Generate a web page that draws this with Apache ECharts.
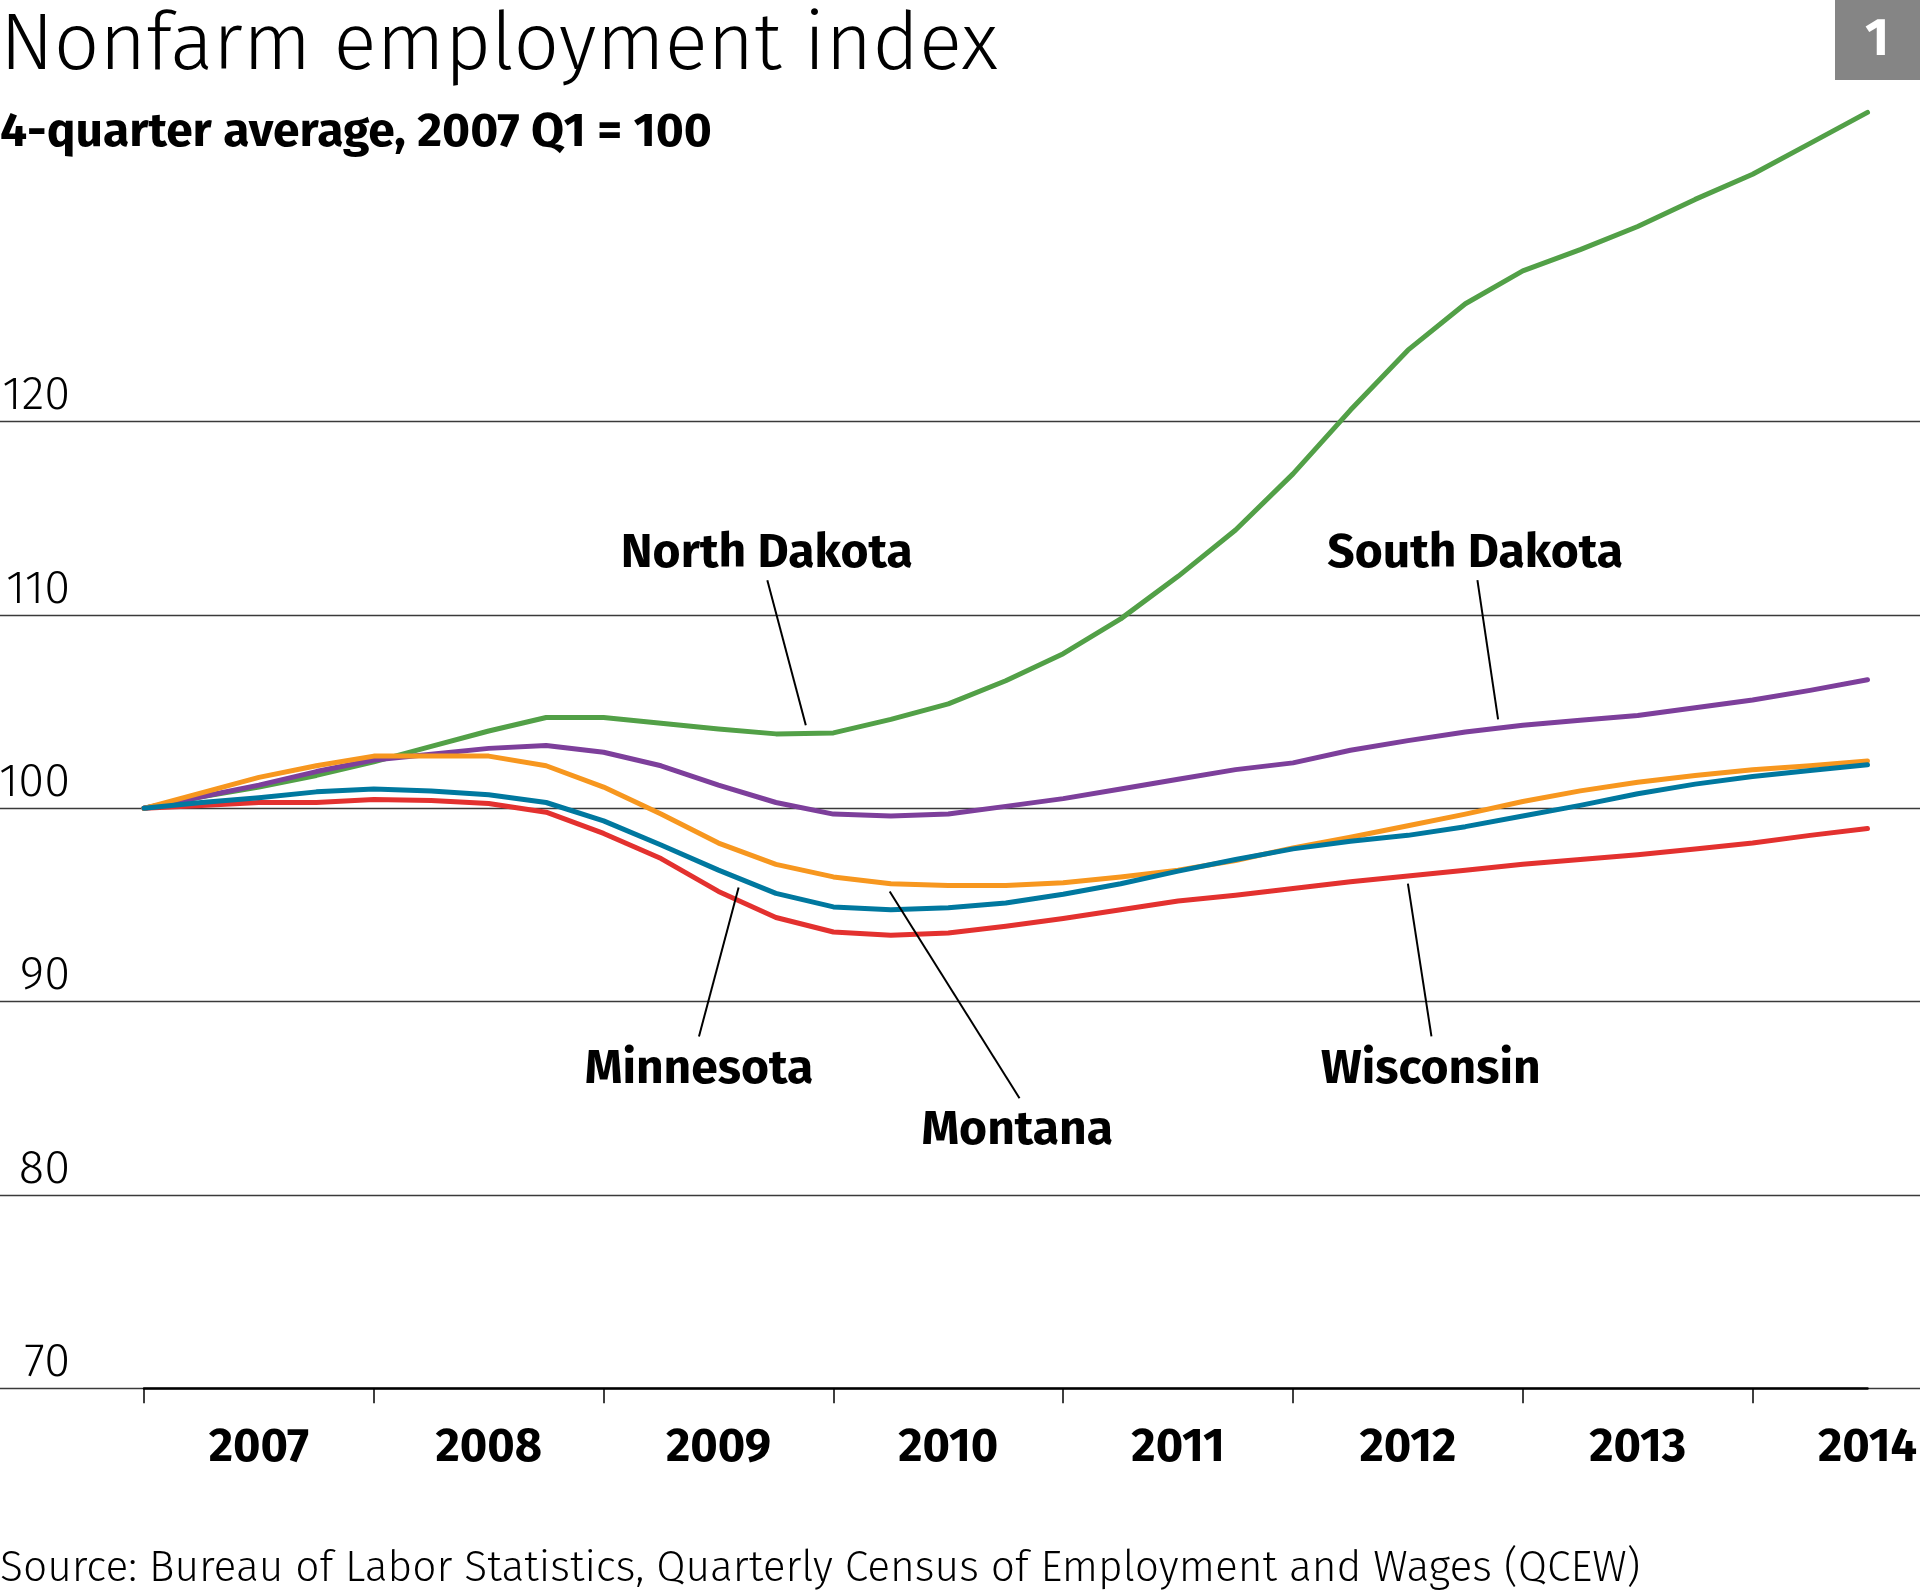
<!DOCTYPE html>
<html>
<head>
<meta charset="utf-8">
<script src="https://cdn.jsdelivr.net/npm/echarts@6/dist/echarts.min.js"></script>
<style>
  html, body { margin: 0; padding: 0; background: #fff; }
  #chart { width: 1920px; height: 1596px; }
</style>
</head>
<body>
<div id="chart"></div>
<script>
// quarterly index, 2007 Q1 .. 2014 Q3
var years = ['2007', '2008', '2009', '2010', '2011', '2012', '2013', '2014'];
var yTicks = [70, 80, 90, 100, 110, 120];

var northDakota = [100, 100.6, 101.1, 101.7, 102.4, 103.2, 104.0, 104.7, 104.7, 104.4, 104.1, 103.85, 103.9, 104.6, 105.4, 106.6,
  108.0, 109.8, 112.0, 114.4, 117.3, 120.6, 123.7, 126.1, 127.8, 128.9, 130.1, 131.5, 132.8, 134.4, 136.0];
var southDakota = [100, 100.6, 101.2, 101.9, 102.5, 102.8, 103.1, 103.25, 102.9, 102.2, 101.2, 100.3, 99.7, 99.6, 99.7, 100.1,
  100.5, 101.0, 101.5, 102.0, 102.35, 103.0, 103.5, 103.95, 104.3, 104.55, 104.8, 105.2, 105.6, 106.1, 106.65];
var montana = [100, 100.8, 101.6, 102.2, 102.7, 102.7, 102.7, 102.2, 101.1, 99.7, 98.2, 97.1, 96.45, 96.1, 96.0, 96.0,
  96.15, 96.45, 96.8, 97.3, 97.95, 98.5, 99.1, 99.7, 100.35, 100.9, 101.35, 101.7, 102.0, 102.2, 102.45];
var minnesota = [100, 100.3, 100.55, 100.85, 101.0, 100.9, 100.7, 100.3, 99.35, 98.1, 96.8, 95.6, 94.9, 94.75, 94.85, 95.1,
  95.55, 96.1, 96.75, 97.35, 97.9, 98.3, 98.6, 99.05, 99.6, 100.15, 100.75, 101.25, 101.65, 101.95, 102.25];
var wisconsin = [100, 100.15, 100.3, 100.3, 100.45, 100.4, 100.25, 99.8, 98.7, 97.4, 95.7, 94.35, 93.6, 93.43, 93.55, 93.9,
  94.3, 94.75, 95.2, 95.5, 95.85, 96.2, 96.5, 96.8, 97.1, 97.35, 97.6, 97.9, 98.2, 98.6, 98.95];

// state names and where their labels / leader lines sit (quarter index, index value)
var labelNames = ['North Dakota', 'South Dakota', 'Minnesota', 'Montana', 'Wisconsin'];
var labelAt = [[10.84, 113.2], [23.17, 113.2], [9.66, 86.5], [15.2, 83.35], [22.4, 86.5]];
var leaderFrom = [[10.85, 111.8], [23.21, 111.8], [9.66, 88.2], [15.24, 85.0], [22.41, 88.2]];
var leaderTo = [[11.52, 104.3], [23.57, 104.6], [10.35, 95.9], [12.98, 95.7], [22.0, 96.1]];

var quarters = [];
years.forEach(function (y) {
  for (var q = 1; q <= 4; q++) quarters.push(y + ' Q' + q);
});
quarters = quarters.slice(0, northDakota.length);

var FONT = "'Fira Sans', 'Open Sans', Roboto, sans-serif";

function toPairs(arr) {
  return arr.map(function (v, i) { return [i, v]; });
}

function lineSeries(name, data, color) {
  return {
    name: name,
    type: 'line',
    xAxisIndex: 0,
    yAxisIndex: 0,
    data: toPairs(data),
    showSymbol: false,
    symbol: 'none',
    silent: true,
    lineStyle: { color: color, width: 5, cap: 'round', join: 'round' }
  };
}

var series = [
  lineSeries('North Dakota', northDakota, '#52a047'),
  lineSeries('South Dakota', southDakota, '#7d3f9b'),
  lineSeries('Wisconsin', wisconsin, '#e3312f'),
  lineSeries('Montana', montana, '#f7971f'),
  lineSeries('Minnesota', minnesota, '#00789f')
];

series[0].markLine = {
  silent: true,
  symbol: 'none',
  label: { show: false },
  lineStyle: { color: '#000', width: 2, type: 'solid' },
  data: leaderFrom.map(function (p, i) {
    return [{ coord: p }, { coord: leaderTo[i] }];
  })
};
series[0].markPoint = {
  silent: true,
  symbol: 'circle',
  symbolSize: 1,
  itemStyle: { color: 'rgba(0,0,0,0)' },
  label: {
    show: true,
    position: 'inside',
    formatter: '{b}',
    color: '#000',
    fontFamily: FONT,
    fontWeight: 'bold',
    fontSize: 48
  },
  data: labelNames.map(function (n, i) {
    return { name: n, coord: labelAt[i] };
  })
};

var chart = echarts.init(document.getElementById('chart'), null, { renderer: 'canvas' });

chart.setOption({
  animation: false,
  backgroundColor: '#fff',
  title: [
    {
      text: 'Nonfarm employment index',
      left: 0, top: 7, padding: 0,
      textStyle: { fontFamily: FONT, fontWeight: 300, fontSize: 80, color: '#000' }
    },
    {
      text: '4-quarter average, 2007 Q1 = 100',
      left: 0, top: 109, padding: 0,
      textStyle: { fontFamily: FONT, fontWeight: 'bold', fontSize: 48, color: '#000' }
    },
    {
      text: 'Source: Bureau of Labor Statistics, Quarterly Census of Employment and Wages (QCEW)',
      left: 0, top: 1548, padding: 0,
      textStyle: { fontFamily: FONT, fontWeight: 300, fontSize: 42.5, color: '#000' }
    }
  ],
  graphic: [
    { type: 'rect', shape: { x: 1835, y: 0, width: 85, height: 80 }, style: { fill: '#858585' } },
    {
      type: 'text', x: 1877, y: 40,
      style: { text: '1', fill: '#fff', font: 'bold 52px ' + FONT, textAlign: 'center', textVerticalAlign: 'middle' }
    }
  ],
  grid: [
    { left: 144, right: 52.5, top: 35.1, bottom: 207.8, outerBoundsMode: 'none', containLabel: false },
    { left: 0, right: 0, top: 421.7, bottom: 207.8, outerBoundsMode: 'none', containLabel: false }
  ],
  xAxis: [
    { type: 'value', gridIndex: 0, position: 'top', min: 0, max: quarters.length - 1, show: false },
    {
      type: 'category', gridIndex: 0, position: 'bottom', offset: 0, data: quarters, boundaryGap: false, z: 5,
      axisLine: { show: true, onZero: false, lineStyle: { color: '#000', width: 2.5 } },
      axisTick: { show: true, interval: 3, length: 15, lineStyle: { color: '#000', width: 1.5 } },
      axisLabel: {
        interval: function (i) { return i % 4 === 2; },
        formatter: function (v) { return v.slice(0, 4); },
        margin: 36,
        color: '#000',
        fontFamily: FONT,
        fontWeight: 'bold',
        fontSize: 47
      },
      splitLine: { show: false }
    },
    { type: 'value', gridIndex: 1, position: 'top', min: 0, max: 1, show: false }
  ],
  yAxis: [
    { type: 'value', gridIndex: 0, min: 70, max: 140, show: false },
    {
      type: 'value', gridIndex: 1, min: yTicks[0], max: yTicks[yTicks.length - 1], interval: 10,
      axisLine: { show: false },
      axisTick: { show: false },
      splitLine: { show: true, lineStyle: { color: '#3a3a3a', width: 1.3 } },
      axisLabel: {
        inside: true,
        margin: 70,
        align: 'right',
        verticalAlign: 'bottom',
        padding: [0, 0, 2, 0],
        color: '#000',
        fontFamily: FONT,
        fontWeight: 300,
        fontSize: 47
      }
    }
  ],
  series: series
});
</script>
</body>
</html>
